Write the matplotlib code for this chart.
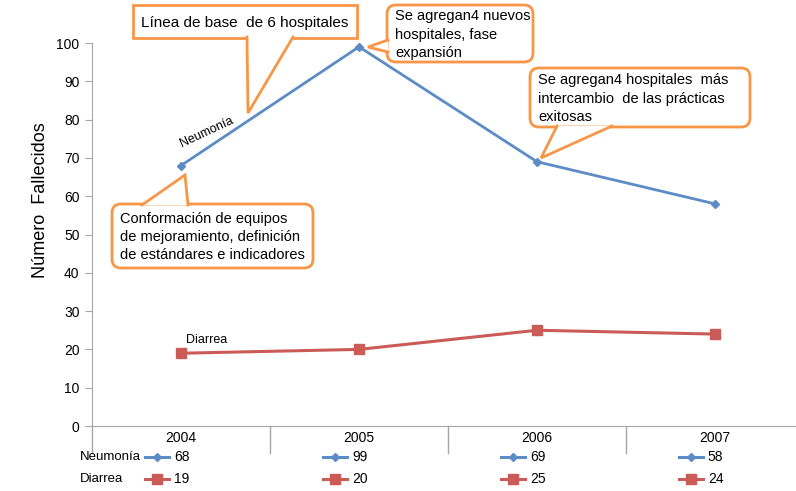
import matplotlib.pyplot as plt
from matplotlib.patches import FancyBboxPatch, Rectangle, Polygon

years = ['2004', '2005', '2006', '2007']
neumonia = [68, 99, 69, 58]
diarrea = [19, 20, 25, 24]
series_names = ['Neumonía', 'Diarrea']
yticks = list(range(0, 101, 10))

plt.rcParams['font.family'] = ['Liberation Sans', 'DejaVu Sans']

blue = '#5B8CC6'
red = '#CB5B57'
orange = '#F79646'
gray = '#A6A6A6'

fig = plt.figure(figsize=(7.96, 4.91), dpi=100)
W, H = 796, 491

# area del grafico en pixeles
left, right, top, bottom = 92, 796, 43, 426
ax = fig.add_axes([left / W, 1 - bottom / H, (right - left) / W, (bottom - top) / H])
x = list(range(len(years)))
ax.plot(x, neumonia, color=blue, lw=2, marker='D', ms=4.5, zorder=3)
ax.plot(x, diarrea, color=red, lw=2.2, marker='s', ms=7, zorder=3)
ax.set_ylim(0, 100)
ax.set_xlim(-0.5, 3.5 - 8 / 178)
ax.set_yticks(yticks)
ax.set_xticks([])
for s in ['top', 'right']:
    ax.spines[s].set_visible(False)
ax.spines['left'].set_color(gray)
ax.spines['bottom'].set_color(gray)
ax.tick_params(axis='y', colors=gray, length=5, labelcolor='black', labelsize=10, pad=4)
ax.set_ylabel('Número  Fallecidos', fontsize=13)
ax.yaxis.set_label_coords(-43 / (right - left), 0.59)

# separadores de categorias y etiquetas del eje x
for i in range(len(years) + 1):
    ax.plot([i - 0.5, i - 0.5], [0, -7], color=gray, lw=1, clip_on=False)
for i, yr in enumerate(years):
    ax.text(i, -3.2, yr, ha='center', va='center', fontsize=10)

# tabla de datos debajo del eje
rows = [(series_names[0], neumonia, blue, 'D', 4.5, -8.1),
        (series_names[1], diarrea, red, 's', 7, -13.8)]
for name, vals, col, mk, ms, yy in rows:
    ax.text(-0.5 - 12 / 178, yy, name, ha='left', va='center', fontsize=9.5, clip_on=False)
    for i, v in enumerate(vals):
        ax.plot([i - 0.205, i - 0.07], [yy, yy], color=col, lw=2.2, clip_on=False)
        ax.plot([i - 0.137], [yy], color=col, marker=mk, ms=ms, clip_on=False)
        ax.text(i - 0.04, yy, str(v), ha='left', va='center', fontsize=10, clip_on=False)

# etiquetas de series
ax.text(0, neumonia[0] + 5.5, series_names[0], rotation=25, fontsize=9, ha='left', va='center',
        rotation_mode='anchor')
ax.text(0.03, diarrea[0] + 3.5, series_names[1], fontsize=9, ha='left', va='center')

# capa superior en pixeles para las llamadas
ov = fig.add_axes([0, 0, 1, 1], zorder=5)
ov.set_xlim(0, W)
ov.set_ylim(H, 0)
ov.axis('off')
ov.patch.set_alpha(0)


def callout(x0, y0, x1, y1, base, tip, text, rounded=True, fs=10.5):
    if rounded:
        box = FancyBboxPatch((x0, y0), x1 - x0, y1 - y0, boxstyle='round,pad=0,rounding_size=9',
                             fc='white', ec=orange, lw=2)
    else:
        box = Rectangle((x0, y0), x1 - x0, y1 - y0, fc='white', ec=orange, lw=2)
    ov.add_patch(box)
    (bx0, by0), (bx1, by1) = base
    ov.add_patch(Polygon([(bx0, by0), tip, (bx1, by1)], closed=True, fc='white', ec='none'))
    ov.plot([bx0, tip[0], bx1], [by0, tip[1], by1], color=orange, lw=2, solid_joinstyle='miter')
    ov.text(x0 + 8, (y0 + y1) / 2 + 1, text, ha='left', va='center', fontsize=fs, linespacing=1.38)


callout(133, 5, 357, 38, ((247, 37), (293, 37)), (248, 113),
        'Línea de base  de 6 hospitales', rounded=False, fs=11)
callout(387, 5, 533, 62, ((388, 40), (388, 52)), (368, 47),
        'Se agregan4 nuevos\nhospitales, fase\nexpansión')
callout(530, 68, 750, 127, ((557, 126), (612, 126)), (541, 158),
        'Se agregan4 hospitales  más\nintercambio  de las prácticas\nexitosas')
callout(112, 204, 313, 268, ((142, 205), (188, 205)), (185, 175),
        'Conformación de equipos\nde mejoramiento, definición\nde estándares e indicadores')

fig.savefig('out.png', dpi=100)
